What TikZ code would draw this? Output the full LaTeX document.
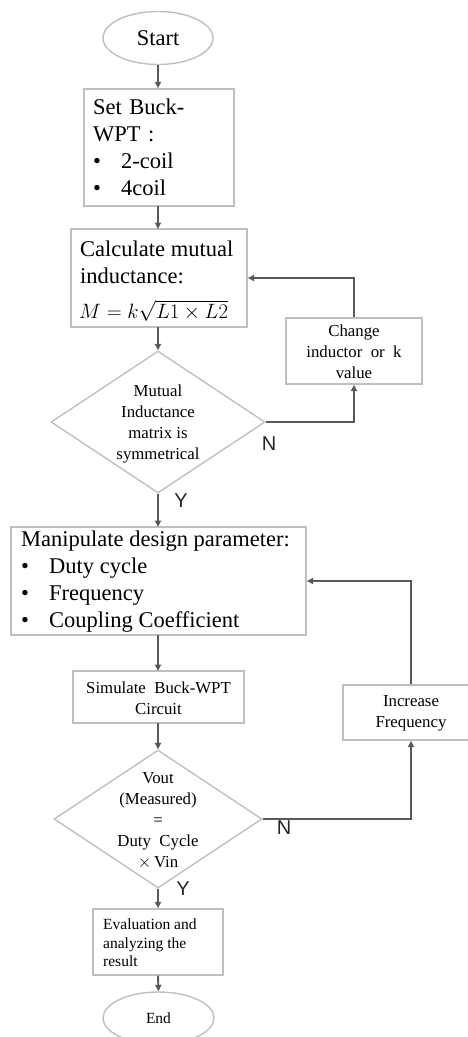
\documentclass[tikz,border=0pt]{standalone}
\usepackage{fontspec}
\setmainfont{Liberation Serif}
\newfontfamily\lblfont{Liberation Sans}
\usetikzlibrary{shapes.geometric,arrows.meta}
\definecolor{boxgray}{HTML}{BFBFBF}
\definecolor{arrgray}{HTML}{595959}
\newcommand{\bitem}[1]{\makebox[28pt][l]{\textbullet}#1}
\tikzset{
  boxnode/.style={draw=boxgray,line width=1.4pt,rectangle,inner sep=0pt},
  termnode/.style={draw=boxgray,line width=1.4pt,ellipse,inner sep=0pt},
  decnode/.style={draw=boxgray,line width=1.4pt,diamond,inner sep=0pt},
  bigtext/.style={font=\fontsize{22.5}{27}\selectfont},
  midtext/.style={font=\fontsize{16.8}{21}\selectfont},
  smalltext/.style={font=\fontsize{15.5}{18.5}\selectfont},
  yn/.style={font=\lblfont\fontsize{20}{24}\selectfont,text=black!85,inner sep=0pt},
  arr/.style={draw=arrgray,line width=1.9pt,-{Triangle[length=6.5pt,width=6pt]}},
}
\begin{document}
\begin{tikzpicture}[x=1pt,y=-1pt]
\useasboundingbox (0,0) rectangle (468,1037);
% Start
\node[termnode,minimum width=110pt,minimum height=53pt,bigtext] (start) at (158,38) {Start};
% Set box
\node[boxnode,minimum width=150pt,minimum height=117pt] (set) at (159,147.5) {};
\node[bigtext,align=left,text width=132pt,inner sep=0pt,anchor=west] (settext) at (93,147.5)
  {Set Buck-\\WPT :\\\bitem{2-coil}\\\bitem{4coil}};
% Calculate box
\node[boxnode,minimum width=176pt,minimum height=98pt] (calc) at (159,278) {};
\node[bigtext,inner sep=0pt,anchor=base west] (calctext1) at (80,256)
  {Calculate mutual};
\node[bigtext,inner sep=0pt,anchor=base west] (calctext2) at (80,283)
  {inductance:};
\node[font=\fontsize{22}{26}\selectfont,inner sep=0pt,anchor=base west] (formula) at (79,318)
  {$M=k\smash{\sqrt{L1\times L2}}$};
% Diamond 1
\node[decnode,minimum width=214pt,minimum height=142pt] (d1) at (158,422) {};
\node[midtext,align=center,inner sep=0pt] (d1text) at (158,424)
  {Mutual\\Inductance\\matrix is\\symmetrical};
% Change box
\node[boxnode,minimum width=136pt,minimum height=66pt] (chg) at (354,351) {};
\node[midtext,align=center,inner sep=0pt] (chgtext) at (354,352)
  {Change\\inductor\ \ or\ \ k\\value};
% Manipulate box
\node[boxnode,minimum width=295pt,minimum height=108pt] (man) at (158.5,581) {};
\node[bigtext,align=left,inner sep=0pt,anchor=west] (mantext) at (21,581.5)
  {Manipulate design parameter:\\\bitem{Duty cycle}\\\bitem{Frequency}\\\bitem{Coupling Coefficient}};
% Simulate box
\node[boxnode,minimum width=171pt,minimum height=52pt] (sim) at (158.5,697) {};
\node[midtext,align=center,inner sep=0pt] (simtext) at (158.5,698)
  {Simulate\ \ Buck-WPT\\Circuit};
% Diamond 2
\node[decnode,minimum width=208pt,minimum height=138pt] (d2) at (158,819) {};
\node[midtext,align=center,inner sep=0pt] (d2text) at (158,821)
  {Vout\\(Measured)\\=\\Duty\ \ Cycle\\$\times$\,Vin};
% Increase box
\node[boxnode,minimum width=136pt,minimum height=55pt] (inc) at (411,712.5) {};
\node[midtext,align=center,inner sep=0pt] (inctext) at (411,713)
  {Increase\\Frequency};
% Evaluation box
\node[boxnode,minimum width=130pt,minimum height=66pt] (eval) at (158,942) {};
\node[smalltext,align=left,inner sep=0pt,anchor=west] (evaltext) at (103,943)
  {Evaluation and\\analyzing the\\result};
% End
\node[termnode,minimum width=111pt,minimum height=52pt,font=\fontsize{15.5}{18}\selectfont] (end) at (158.5,1018) {End};
% Labels
\node[yn] (n1) at (269,444) {N};
\node[yn] (y1) at (181,501) {Y};
\node[yn] (n2) at (284,828) {N};
\node[yn] (y2) at (183,889) {Y};
% Connectors
\draw[arr] (start.south) -- (start.south |- set.north);
\draw[arr] (158,206) -- (158,229);
\draw[arr] (158,327) -- (d1.north);
\draw[arr] (d1.south) -- (158,527);
\draw[arr] (d1.east) -| (chg.south);
\draw[arr] (chg.north) |- (calc.east |- 0,278);
\draw[arr] (158,635) -- (158,671);
\draw[arr] (158,723) -- (d2.north);
\draw[arr] (d2.east) -| (inc.south);
\draw[arr] (inc.north) |- (man.east |- 0,581);
\draw[arr] (d2.south) -- (eval.north);
\draw[arr] (eval.south) -- (end.north);
\end{tikzpicture}
\end{document}
